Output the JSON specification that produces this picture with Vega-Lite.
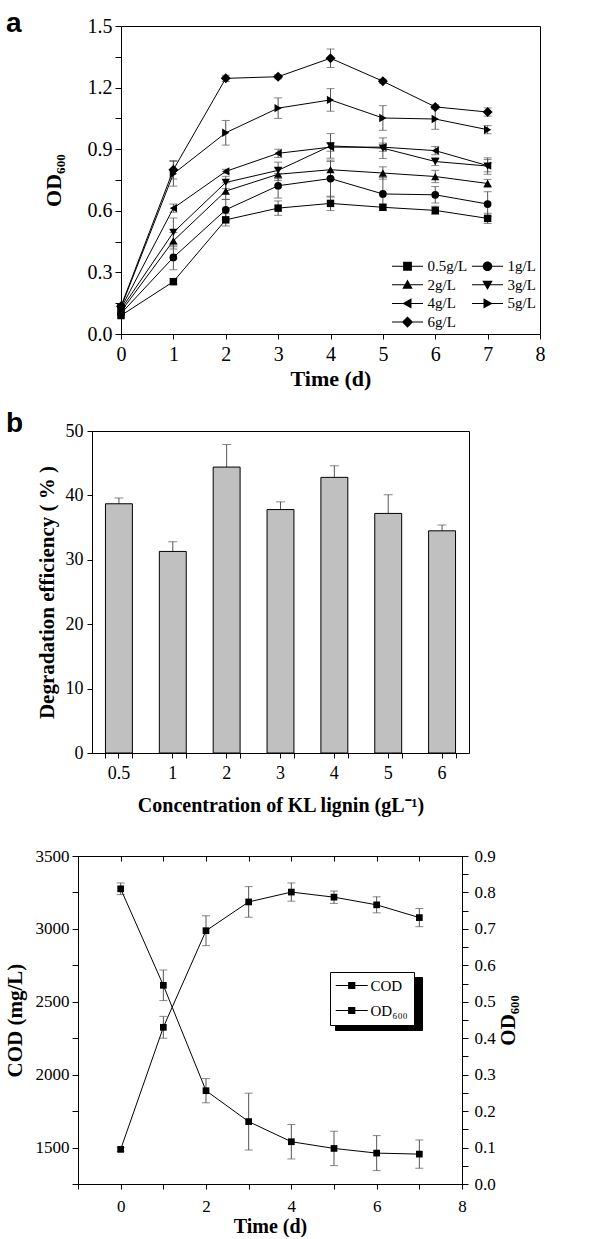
{
  "$schema": "https://vega.github.io/schema/vega-lite/v6.json",
  "background": "white",
  "padding": {"left": 3, "top": 9, "right": 0, "bottom": 0},
  "datasets": {
    "od": [
      {"day": 0, "conc": "0.5g/L", "od": 0.09, "err": 0.01},
      {"day": 1, "conc": "0.5g/L", "od": 0.255, "err": 0.015},
      {"day": 2, "conc": "0.5g/L", "od": 0.556, "err": 0.03},
      {"day": 3, "conc": "0.5g/L", "od": 0.613, "err": 0.035},
      {"day": 4, "conc": "0.5g/L", "od": 0.636, "err": 0.035},
      {"day": 5, "conc": "0.5g/L", "od": 0.617, "err": 0.015},
      {"day": 6, "conc": "0.5g/L", "od": 0.602, "err": 0.02},
      {"day": 7, "conc": "0.5g/L", "od": 0.563, "err": 0.025},
      {"day": 0, "conc": "1g/L", "od": 0.1, "err": 0.01},
      {"day": 1, "conc": "1g/L", "od": 0.373, "err": 0.06},
      {"day": 2, "conc": "1g/L", "od": 0.605, "err": 0.05},
      {"day": 3, "conc": "1g/L", "od": 0.722, "err": 0.06},
      {"day": 4, "conc": "1g/L", "od": 0.757, "err": 0.09},
      {"day": 5, "conc": "1g/L", "od": 0.682, "err": 0.08},
      {"day": 6, "conc": "1g/L", "od": 0.678, "err": 0.04},
      {"day": 7, "conc": "1g/L", "od": 0.633, "err": 0.06},
      {"day": 0, "conc": "2g/L", "od": 0.11, "err": 0.01},
      {"day": 1, "conc": "2g/L", "od": 0.454, "err": 0.04},
      {"day": 2, "conc": "2g/L", "od": 0.696, "err": 0.04},
      {"day": 3, "conc": "2g/L", "od": 0.778, "err": 0.03},
      {"day": 4, "conc": "2g/L", "od": 0.8, "err": 0.04},
      {"day": 5, "conc": "2g/L", "od": 0.784, "err": 0.03},
      {"day": 6, "conc": "2g/L", "od": 0.767, "err": 0.03},
      {"day": 7, "conc": "2g/L", "od": 0.733, "err": 0.02},
      {"day": 0, "conc": "3g/L", "od": 0.12, "err": 0.01},
      {"day": 1, "conc": "3g/L", "od": 0.495, "err": 0.07},
      {"day": 2, "conc": "3g/L", "od": 0.738, "err": 0.03},
      {"day": 3, "conc": "3g/L", "od": 0.797, "err": 0.04},
      {"day": 4, "conc": "3g/L", "od": 0.916, "err": 0.06},
      {"day": 5, "conc": "3g/L", "od": 0.905, "err": 0.05},
      {"day": 6, "conc": "3g/L", "od": 0.84, "err": 0.02},
      {"day": 7, "conc": "3g/L", "od": 0.818, "err": 0.04},
      {"day": 0, "conc": "4g/L", "od": 0.125, "err": 0.01},
      {"day": 1, "conc": "4g/L", "od": 0.613, "err": 0.02},
      {"day": 2, "conc": "4g/L", "od": 0.792, "err": 0.01},
      {"day": 3, "conc": "4g/L", "od": 0.88, "err": 0.02},
      {"day": 4, "conc": "4g/L", "od": 0.91, "err": 0.02},
      {"day": 5, "conc": "4g/L", "od": 0.91, "err": 0.02},
      {"day": 6, "conc": "4g/L", "od": 0.893, "err": 0.02},
      {"day": 7, "conc": "4g/L", "od": 0.82, "err": 0.03},
      {"day": 0, "conc": "5g/L", "od": 0.13, "err": 0.01},
      {"day": 1, "conc": "5g/L", "od": 0.78, "err": 0.06},
      {"day": 2, "conc": "5g/L", "od": 0.98, "err": 0.06},
      {"day": 3, "conc": "5g/L", "od": 1.1, "err": 0.05},
      {"day": 4, "conc": "5g/L", "od": 1.14, "err": 0.055},
      {"day": 5, "conc": "5g/L", "od": 1.052, "err": 0.06},
      {"day": 6, "conc": "5g/L", "od": 1.047, "err": 0.05},
      {"day": 7, "conc": "5g/L", "od": 0.995, "err": 0.02},
      {"day": 0, "conc": "6g/L", "od": 0.135, "err": 0.01},
      {"day": 1, "conc": "6g/L", "od": 0.8, "err": 0.045},
      {"day": 2, "conc": "6g/L", "od": 1.245, "err": 0.015},
      {"day": 3, "conc": "6g/L", "od": 1.253, "err": 0.01},
      {"day": 4, "conc": "6g/L", "od": 1.343, "err": 0.045},
      {"day": 5, "conc": "6g/L", "od": 1.231, "err": 0.01},
      {"day": 6, "conc": "6g/L", "od": 1.106, "err": 0.01},
      {"day": 7, "conc": "6g/L", "od": 1.081, "err": 0.02}
    ],
    "eff": [
      {"conc": "0.5", "eff": 38.7, "hi": 39.6},
      {"conc": "1", "eff": 31.3, "hi": 32.8},
      {"conc": "2", "eff": 44.4, "hi": 47.9},
      {"conc": "3", "eff": 37.8, "hi": 39.0},
      {"conc": "4", "eff": 42.8, "hi": 44.6},
      {"conc": "5", "eff": 37.2, "hi": 40.1},
      {"conc": "6", "eff": 34.5, "hi": 35.4}
    ],
    "cod": [
      {"day": 0, "series": "COD", "value": 3275, "err": 40},
      {"day": 1, "series": "COD", "value": 2613, "err": 105},
      {"day": 2, "series": "COD", "value": 1890, "err": 83},
      {"day": 3, "series": "COD", "value": 1678, "err": 195},
      {"day": 4, "series": "COD", "value": 1540, "err": 118},
      {"day": 5, "series": "COD", "value": 1494, "err": 118},
      {"day": 6, "series": "COD", "value": 1462, "err": 120},
      {"day": 7, "series": "COD", "value": 1455, "err": 97},
      {"day": 0, "series": "OD₆₀₀", "value": 0.095, "err": 0.005},
      {"day": 1, "series": "OD₆₀₀", "value": 0.43, "err": 0.03},
      {"day": 2, "series": "OD₆₀₀", "value": 0.695, "err": 0.041},
      {"day": 3, "series": "OD₆₀₀", "value": 0.774, "err": 0.042},
      {"day": 4, "series": "OD₆₀₀", "value": 0.801, "err": 0.025},
      {"day": 5, "series": "OD₆₀₀", "value": 0.787, "err": 0.017},
      {"day": 6, "series": "OD₆₀₀", "value": 0.766, "err": 0.022},
      {"day": 7, "series": "OD₆₀₀", "value": 0.731, "err": 0.025}
    ]
  },
  "spacing": 19,
  "resolve": {"scale": {"color": "independent", "shape": "independent"}, "legend": {"color": "independent", "shape": "independent"}},
  "vconcat": [
    {
      "hconcat": [
        {"width": 43, "height": 1, "view": {"stroke": null}, "data": {"values": []}, "mark": "point"},
        {
          "width": 419,
          "height": 308,
          "title": {"text": "a", "anchor": "start", "frame": "group", "orient": "top", "offset": 0, "dx": -115, "dy": 43.5, "baseline": "alphabetic", "font": "Liberation Sans", "fontSize": 28, "fontWeight": "bold", "color": "black"},
          "data": {"name": "od"},
          "encoding": {
            "x": {"field": "day", "type": "quantitative", "scale": {"domain": [0, 8], "nice": false},
              "axis": {"title": "Time (d)", "format": "d", "values": [0, 0.5, 1, 1.5, 2, 2.5, 3, 3.5, 4, 4.5, 5, 5.5, 6, 6.5, 7, 7.5, 8],
                "labelExpr": "datum.value % 1 === 0 ? format(datum.value, 'd') : ''", "tickSize": 5, "labelPadding": 5, "titlePadding": 4, "labelFontSize": 20, "titleFontSize": 22}},
            "y": {"field": "od", "type": "quantitative", "scale": {"domain": [0, 1.5], "nice": false},
              "axis": {"title": "OD₆₀₀", "values": [0, 0.15, 0.3, 0.45, 0.6, 0.75, 0.9, 1.05, 1.2, 1.35, 1.5],
                "labelExpr": "abs(datum.value / 0.3 - round(datum.value / 0.3)) < 0.01 ? format(datum.value, '.1f') : ''", "tickSize": 6, "labelPadding": 3, "titlePadding": 22, "labelFontSize": 20, "titleFontSize": 22}}
          },
          "layer": [
            {"mark": {"type": "errorbar", "ticks": true, "size": 8, "thickness": 1, "color": "#555"}, "encoding": {"yError": {"field": "err"}}},
            {"mark": {"type": "line", "color": "black", "strokeWidth": 1}, "encoding": {"detail": {"field": "conc", "type": "nominal"}}},
            {"transform": [{"filter": "datum.conc === '0.5g/L'"}], "mark": {"type": "point", "shape": "square", "filled": true, "color": "black", "size": 55, "opacity": 1}},
            {"transform": [{"filter": "datum.conc === '1g/L'"}], "mark": {"type": "point", "shape": "circle", "filled": true, "color": "black", "size": 60, "opacity": 1}},
            {"transform": [{"filter": "datum.conc === '2g/L'"}], "mark": {"type": "point", "shape": "triangle-up", "filled": true, "color": "black", "size": 70, "opacity": 1}},
            {"transform": [{"filter": "datum.conc === '3g/L'"}], "mark": {"type": "point", "shape": "triangle-down", "filled": true, "color": "black", "size": 70, "opacity": 1}},
            {"transform": [{"filter": "datum.conc === '4g/L'"}], "mark": {"type": "point", "shape": "triangle-left", "filled": true, "color": "black", "size": 70, "opacity": 1}},
            {"transform": [{"filter": "datum.conc === '5g/L'"}], "mark": {"type": "point", "shape": "triangle-right", "filled": true, "color": "black", "size": 70, "opacity": 1}},
            {"transform": [{"filter": "datum.conc === '6g/L'"}], "mark": {"type": "point", "shape": "diamond", "filled": true, "color": "black", "size": 100, "opacity": 1}},
            {"transform": [{"filter": "datum.day < 0"}],
              "mark": {"type": "point", "filled": true, "color": "black", "size": 64, "opacity": 1},
              "encoding": {"shape": {"field": "conc", "type": "nominal",
                "scale": {"domain": ["0.5g/L", "1g/L", "2g/L", "3g/L", "4g/L", "5g/L", "6g/L"],
                  "range": [
                    "M-1.875,-0.13H5.875V0.13H-1.875ZM0.9,-1.1H3.1V1.1H0.9Z",
                    "M-1.875,-0.13H5.875V0.13H-1.875ZM0.8,0A1.2,1.2,0,1,1,3.2,0A1.2,1.2,0,1,1,0.8,0Z",
                    "M-1.875,-0.13H5.875V0.13H-1.875ZM2,-1.3L3.3,1H0.7Z",
                    "M-1.875,-0.13H5.875V0.13H-1.875ZM2,1.3L0.7,-1H3.3Z",
                    "M-1.875,-0.13H5.875V0.13H-1.875ZM0.7,0L3,-1.3V1.3Z",
                    "M-1.875,-0.13H5.875V0.13H-1.875ZM3.3,0L1,1.3V-1.3Z",
                    "M-1.875,-0.13H5.875V0.13H-1.875ZM2,-1.4L3.4,0L2,1.4L0.6,0Z"
                  ]},
                "legend": {"orient": "none", "legendX": 271, "legendY": 232.5, "direction": "horizontal", "columns": 2, "columnPadding": 4, "rowPadding": 2.7, "symbolSize": 64, "symbolStrokeWidth": 0, "symbolFillColor": "black", "labelOffset": 20.5, "labelFont": "Liberation Serif", "labelFontSize": 15, "labelColor": "black", "padding": 0, "title": null}}}}
          ]
        }
      ],
      "spacing": 0,
      "bounds": "flush",
      "resolve": {"scale": {"shape": "independent"}, "legend": {"shape": "independent"}}
    },
    {
      "hconcat": [
        {"width": 14, "height": 1, "view": {"stroke": null}, "data": {"values": []}, "mark": "point"},
        {
          "width": 377,
          "height": 322,
          "title": {"text": "b", "anchor": "start", "frame": "group", "orient": "top", "offset": 0, "dx": -86, "dy": 38, "baseline": "alphabetic", "font": "Liberation Sans", "fontSize": 28, "fontWeight": "bold", "color": "black"},
          "data": {"name": "eff"},
          "layer": [
            {"mark": {"type": "rule", "color": "#555", "strokeWidth": 1},
              "encoding": {
                "x": {"field": "conc", "type": "ordinal", "sort": null, "scale": {"paddingInner": 0.5, "paddingOuter": 0.25},
                  "axis": {"title": ["Concentration of KL lignin (gL⁻¹)", ""], "titleLineHeight": 11, "labelAngle": 0, "tickSize": 5, "labelPadding": 6, "titlePadding": 13, "labelFontSize": 18, "titleFontSize": 20}},
                "y": {"field": "eff", "type": "quantitative", "scale": {"domain": [0, 50], "nice": false},
                "axis": {"title": "Degradation efficiency ( % )", "values": [0, 5, 10, 15, 20, 25, 30, 35, 40, 45, 50], "labelExpr": "datum.value % 10 === 0 ? datum.label : ''", "tickSize": 5, "labelPadding": 4, "titlePadding": 8, "labelFontSize": 18, "titleFontSize": 21}},
                "y2": {"field": "hi"}}},
            {"mark": {"type": "tick", "color": "#555", "size": 9, "thickness": 1},
              "encoding": {
                "x": {"field": "conc", "type": "ordinal", "sort": null,
                  "axis": {"orient": "bottom", "tickBand": "extent", "labels": false, "domain": false, "title": null, "tickSize": 5}},
                "y": {"field": "hi", "type": "quantitative", "title": "Degradation efficiency ( % )"}}},
            {"mark": {"type": "bar", "fill": "#c0c0c0", "stroke": "black", "strokeWidth": 1},
              "encoding": {
                "x": {"field": "conc", "type": "ordinal", "sort": null, "axis": null},
                "y": {"field": "eff", "type": "quantitative", "title": "Degradation efficiency ( % )"}}}
          ],
          "resolve": {"axis": {"x": "independent"}}
        }
      ],
      "spacing": 0,
      "bounds": "flush"
    },
    {
      "width": 384,
      "height": 328,
      "data": {"name": "cod"},
      "layer": [
        {
          "transform": [{"filter": "datum.series === 'COD'"}],
          "encoding": {
            "x": {"field": "day", "type": "quantitative", "scale": {"domain": [-1, 8], "nice": false},
              "axis": {"title": "Time (d)", "values": [-1, 0, 1, 2, 3, 4, 5, 6, 7, 8], "labelExpr": "datum.value >= 0 && datum.value % 2 === 0 ? datum.label : ''", "tickSize": 5, "labelPadding": 9, "titlePadding": 2, "labelFontSize": 17, "titleFontSize": 20}},
            "y": {"field": "value", "type": "quantitative", "scale": {"domain": [1250, 3500], "nice": false, "zero": false},
              "axis": {"title": "COD (mg/L)", "values": [1250, 1500, 1750, 2000, 2250, 2500, 2750, 3000, 3250, 3500], "format": "d", "labelExpr": "datum.value % 500 === 0 ? datum.label : ''", "tickSize": 6, "labelPadding": 3, "titlePadding": 10, "labelFontSize": 17, "titleFontSize": 21}}
          },
          "layer": [
            {"mark": {"type": "errorbar", "ticks": true, "size": 8, "thickness": 1, "color": "#555"}, "encoding": {"yError": {"field": "err"}}},
            {"mark": {"type": "line", "color": "black", "strokeWidth": 1}},
            {"mark": {"type": "point", "shape": "square", "filled": true, "color": "black", "size": 45, "opacity": 1}}
          ]
        },
        {
          "transform": [{"filter": "datum.series !== 'COD'"}],
          "encoding": {
            "x": {"field": "day", "type": "quantitative", "scale": {"domain": [-1, 8], "nice": false},
              "axis": {"orient": "top", "title": null, "labels": false, "values": [-1, 0, 1, 2, 3, 4, 5, 6, 7, 8], "tickSize": -5}},
            "y": {"field": "value", "type": "quantitative", "scale": {"domain": [0, 0.9], "nice": false},
              "axis": {"orient": "right", "title": "OD₆₀₀", "values": [0, 0.05, 0.1, 0.15, 0.2, 0.25, 0.3, 0.35, 0.4, 0.45, 0.5, 0.55, 0.6, 0.65, 0.7, 0.75, 0.8, 0.85, 0.9], "labelExpr": "abs(datum.value * 10 - round(datum.value * 10)) < 0.001 ? format(datum.value, '.1f') : ''", "tickSize": 6, "labelPadding": 6, "titlePadding": 2, "titleAngle": 270, "titleBaseline": "top", "labelFontSize": 17, "titleFontSize": 21}}
          },
          "layer": [
            {"mark": {"type": "errorbar", "ticks": true, "size": 8, "thickness": 1, "color": "#555"}, "encoding": {"yError": {"field": "err"}}},
            {"mark": {"type": "line", "color": "black", "strokeWidth": 1}},
            {"mark": {"type": "point", "shape": "square", "filled": true, "color": "black", "size": 45, "opacity": 1}}
          ]
        },
        {
          "transform": [{"filter": "datum.day < 0"}],
          "mark": {"type": "point", "filled": true, "color": "black", "size": 64, "opacity": 1},
          "encoding": {
            "color": {"field": "series", "type": "nominal", "scale": {"domain": ["OD₆₀₀", "COD"], "range": ["black", "black"]},
              "legend": {"orient": "none", "legendX": 257, "legendY": 121, "symbolType": "square", "symbolSize": 64, "symbolStrokeWidth": 0, "labelExpr": "''", "labelOffset": 59.5, "labelFont": "Liberation Serif", "labelFontSize": 15, "labelColor": "black", "rowPadding": 9, "padding": 6, "strokeColor": "black", "fillColor": "black", "symbolFillColor": "black", "title": null}},
            "shape": {"field": "series", "type": "nominal", "scale": {"domain": ["COD", "OD₆₀₀"], "range": ["M-1.94,-0.13H6.06V0.13H-1.94ZM1.16,-0.9H2.96V0.9H1.16Z", "M-1.94,-0.13H6.06V0.13H-1.94ZM1.16,-0.9H2.96V0.9H1.16Z"]},
              "legend": {"orient": "none", "legendX": 252, "legendY": 116, "symbolSize": 64, "symbolStrokeWidth": 0, "symbolFillColor": "black", "labelOffset": 19.5, "labelFont": "Liberation Serif", "labelFontSize": 15, "labelColor": "black", "rowPadding": 9, "padding": 6, "strokeColor": "black", "fillColor": "white", "title": null}}
          }
        }
      ],
      "resolve": {"scale": {"y": "independent"}, "axis": {"x": "independent"}}
    }
  ],
  "config": {
    "view": {"stroke": "black", "strokeWidth": 1},
    "font": "Liberation Serif",
    "axis": {"grid": false, "domainColor": "black", "domainWidth": 1, "tickColor": "black", "tickWidth": 1, "labelColor": "black", "titleColor": "black", "labelFont": "Liberation Serif", "titleFont": "Liberation Serif", "titleFontWeight": "bold", "labelOverlap": false, "labelFlush": false},
    "title": {"color": "black"}
  }
}
